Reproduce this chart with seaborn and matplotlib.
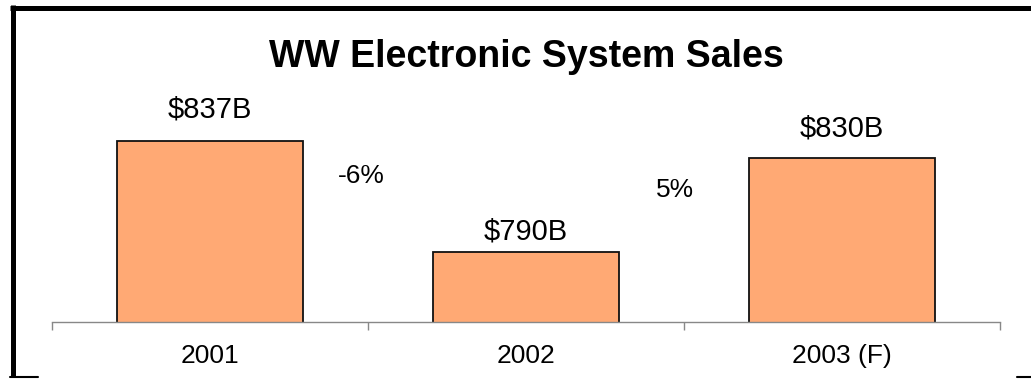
import matplotlib
matplotlib.use('Agg')
import matplotlib.pyplot as plt
from matplotlib.lines import Line2D
import seaborn as sns
import pandas as pd

# ---- data ----
categories = ['2001', '2002', '2003 (F)']
sales = [837, 790, 830]
value_labels = ['$837B', '$790B', '$830B']
growth_labels = ['-6%', '5%']
title = 'WW Electronic System Sales'

# ---- layout (pixels / points) ----
W, H = 1031, 379
label_offsets_pt = [17, 8.6, 15]
growth_xy = [(0.479, 819.1), (1.473, 813.2)]

sns.set_theme(style='white')
plt.rcParams['font.family'] = ['Liberation Sans', 'DejaVu Sans']

fig = plt.figure(figsize=(W / 100, H / 100), dpi=100)
ax = fig.add_axes([52 / W, (H - 322) / H, 948 / W, (322 - 60) / H])

df = pd.DataFrame({'year': categories, 'sales': sales})
sns.barplot(data=df, x='year', y='sales', color='#FFA974', saturation=1,
            width=0.59, edgecolor='#111111', linewidth=1.3, ax=ax)

ax.set_xlim(-0.5, 2.5)
ax.set_ylim(760, 760 + 262 / 2.35)

ax.set_xticks([0, 1, 2])
ax.set_xticklabels(categories, fontsize=19, color='black')
ax.tick_params(axis='x', which='major', length=0, pad=16)
ax.set_xticks([-0.5, 0.5, 1.5, 2.5], minor=True)
ax.tick_params(axis='x', which='minor', bottom=True, length=6, width=1,
               color='#888888', direction='out')
ax.set_yticks([])
ax.set_xlabel('')
ax.set_ylabel('')
for s in ['left', 'top', 'right']:
    ax.spines[s].set_visible(False)
ax.spines['bottom'].set_color('#888888')
ax.spines['bottom'].set_linewidth(1)

for i, (v, lab) in enumerate(zip(sales, value_labels)):
    ax.annotate(lab, (i, v), xytext=(0, label_offsets_pt[i]),
                textcoords='offset points', ha='center', va='baseline',
                fontsize=21, color='black')

for (gx, gy), lab in zip(growth_xy, growth_labels):
    ax.text(gx, gy, lab, ha='center', va='baseline', fontsize=19, color='black')

fig.text(526.5 / W, 1 - 67 / H, title, ha='center', va='baseline',
         fontsize=27, fontweight='bold', color='black')

# frame border
fig.add_artist(Line2D([10 / W, 1.0], [1 - 7.5 / H, 1 - 7.5 / H],
                      transform=fig.transFigure, color='black', lw=3.6,
                      solid_capstyle='butt'))
fig.add_artist(Line2D([12.5 / W, 12.5 / W], [1 - 5 / H, 1 - 377 / H],
                      transform=fig.transFigure, color='black', lw=3.6,
                      solid_capstyle='butt'))
fig.add_artist(Line2D([10 / W, 38 / W], [1 - 377 / H, 1 - 377 / H],
                      transform=fig.transFigure, color='black', lw=1.5))
fig.add_artist(Line2D([1017 / W, 1.0], [1 - 377 / H, 1 - 377 / H],
                      transform=fig.transFigure, color='black', lw=1.5))

fig.savefig('out.png', dpi=100)
